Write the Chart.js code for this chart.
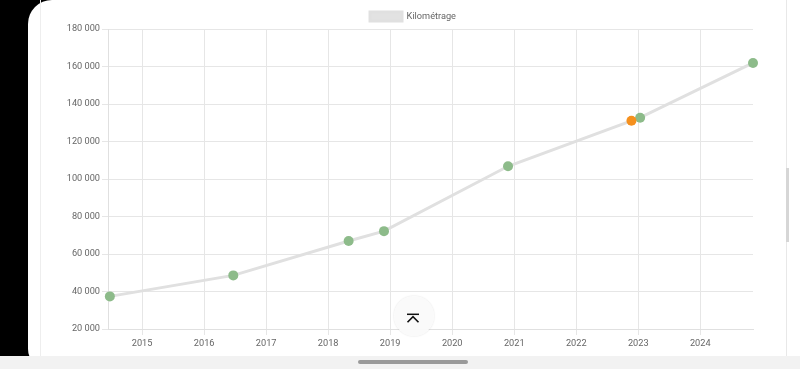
<!DOCTYPE html>
<html>
<head>
<meta charset="utf-8">
<script src="https://cdn.jsdelivr.net/npm/chart.js@4"></script>
<style>
  html, body { margin: 0; padding: 0; background: #000; width: 800px; height: 369px; overflow: hidden; }
  .screen { position: absolute; left: 28px; top: 0; width: 800px; height: 369px; background: #fff; border-radius: 24px 0 0 20px; overflow: hidden; }
  .card { position: absolute; left: 40px; top: 0; width: 747px; height: 356px; border-left: 1px solid #eee; border-right: 1px solid #e8e8e8; box-sizing: border-box; }
  .scrollbar { position: absolute; left: 786px; top: 168px; width: 3px; height: 74px; background: #d6d6d6; }
  .navbar { position: absolute; left: 0; top: 356px; width: 800px; height: 13px; background: #f2f2f2; }
  .pill { position: absolute; left: 358px; top: 360px; width: 110px; height: 4px; border-radius: 2px; background: #9a9a9a; }
  .chart-box { position: absolute; left: 40px; top: 0; width: 747px; height: 356px; }
  .to-top { position: absolute; left: 394px; top: 296px; width: 40px; height: 40px; border-radius: 50%; background: rgba(250,250,250,0.95); box-shadow: 0 0 2px rgba(0,0,0,0.14); }
  .to-top svg { position: absolute; left: 12px; top: 17px; }
</style>
</head>
<body>
<div class="screen"></div>
<div class="card"></div>
<div class="chart-box"><canvas id="graph"></canvas></div>
<div class="scrollbar"></div>
<div class="navbar"></div>
<div class="pill"></div>
<div class="to-top">
  <svg width="14" height="12" viewBox="0 0 14 12">
    <line x1="1" y1="1.3" x2="13" y2="1.3" stroke="#111" stroke-width="1.5"/>
    <polyline points="1.5,9.3 7,3.6 12.5,9.3" fill="none" stroke="#111" stroke-width="1.6"/>
  </svg>
</div>
<script>
// data
const years = [2014.48, 2016.47, 2018.33, 2018.9, 2020.9, 2023.03, 2024.85];
const km = [37400, 48600, 66900, 72200, 106800, 132700, 161900];
const estimateYear = [2022.89];
const estimateKm = [131100];
const yTicks = [20000, 40000, 60000, 80000, 100000, 120000, 140000, 160000, 180000];

const ctx = document.getElementById("graph");

Chart.defaults.font.family = "Roboto";
Chart.defaults.font.size = 9.2;
Chart.defaults.color = "#666";

function fmt(v) {
  return String(v).replace(/\B(?=(\d{3})+(?!\d))/g, " ");
}

// legend centred over the card, not over the plot
const legendShift = {
  id: "legendShift",
  afterLayout(chart) {
    chart.legend.left = 33;
  },
};

const chart = new Chart(ctx, {
  type: "line",
  data: {
    datasets: [
      {
        label: "Kilométrage",
        data: years.map((x, i) => ({ x: x, y: km[i] })),
        borderWidth: 3,
        borderColor: "#e0e0e0",
        backgroundColor: "#e2e2e2",
        pointRadius: 5,
        pointHoverRadius: 5,
        pointBorderWidth: 0,
        pointBackgroundColor: "#8dbb8a",
        tension: 0,
        clip: false,
        order: 1,
      },
      {
        label: "Estimation",
        data: estimateYear.map((x, i) => ({ x: x, y: estimateKm[i] })),
        showLine: false,
        pointRadius: 5,
        pointBorderWidth: 0,
        pointBackgroundColor: "#f5901e",
        clip: false,
        order: 0,
      },
    ],
  },
  options: {
    responsive: true,
    maintainAspectRatio: false,
    animation: false,
    layout: {
      padding: { left: 0, right: 34, top: 0, bottom: 0 },
    },
    plugins: {
      legend: {
        display: true,
        labels: {
          boxWidth: 32,
          boxHeight: 9,
          padding: 12,
          filter: (item) => item.datasetIndex === 0,
        },
      },
      tooltip: { enabled: false },
    },
    scales: {
      x: {
        type: "linear",
        min: 2014.45,
        max: 2024.85,
        afterFit: (s) => { s.height = 27; },
        grid: { color: "#e6e6e6", tickLength: 6 },
        border: { color: "#e0e0e0" },
        ticks: {
          stepSize: 1,
          includeBounds: false,
          padding: 3,
          callback: (v) => String(v),
        },
      },
      y: {
        min: yTicks[0],
        max: yTicks[yTicks.length - 1],
        afterFit: (s) => { s.width = 68; },
        grid: { color: "#e6e6e6", tickLength: 6 },
        border: { color: "#e0e0e0" },
        ticks: {
          stepSize: 20000,
          padding: 2,
          callback: (v) => fmt(v),
        },
      },
    },
  },
  plugins: [legendShift],
});

// legend sits lower than its block height would allow, so trim its height
const legendFit = chart.legend.fit;
chart.legend.fit = function () {
  legendFit.call(this);
  this.height = 29;
};
chart.update();
</script>
</body>
</html>
